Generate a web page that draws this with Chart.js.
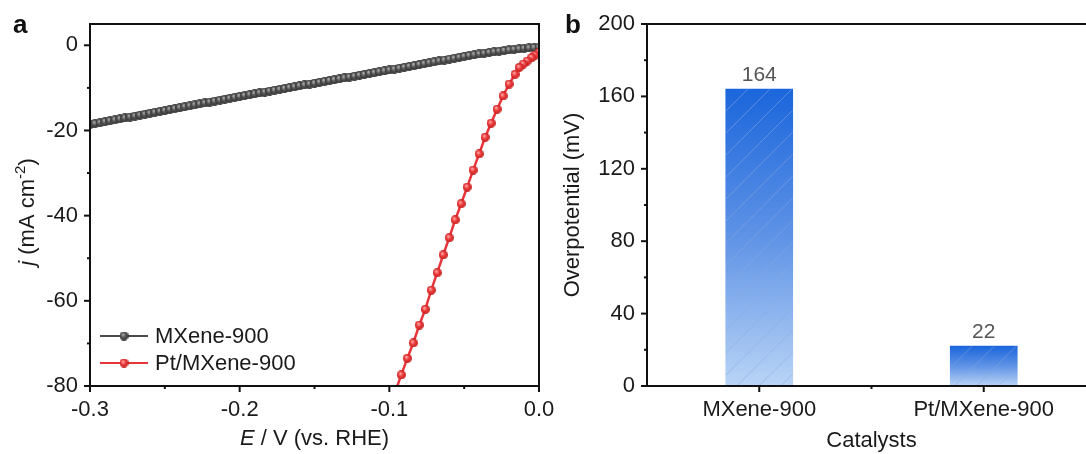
<!DOCTYPE html>
<html>
<head>
<meta charset="utf-8">
<script src="https://cdn.jsdelivr.net/npm/chart.js@4.4.1/dist/chart.umd.min.js"></script>
<style>
  html, body { margin: 0; padding: 0; background: #fff; overflow: hidden; width: 1086px; height: 454px; }
  #panelA { position: absolute; left: 0; top: 0; }
  #panelB { position: absolute; left: 560px; top: 0; }
</style>
</head>
<body>
<canvas id="panelA" width="560" height="454"></canvas>
<canvas id="panelB" width="536" height="454"></canvas>
<script>
// ---- panel a : LSV curves ----
const potentialMx = [
  -0.3000, -0.2967, -0.2933, -0.2900, -0.2867, -0.2833, -0.2800, -0.2767, -0.2733, -0.2700,
  -0.2667, -0.2633, -0.2600, -0.2567, -0.2533, -0.2500, -0.2467, -0.2433, -0.2400, -0.2367,
  -0.2333, -0.2300, -0.2267, -0.2233, -0.2200, -0.2167, -0.2133, -0.2100, -0.2067, -0.2033,
  -0.2000, -0.1967, -0.1933, -0.1900, -0.1867, -0.1833, -0.1800, -0.1767, -0.1733, -0.1700,
  -0.1667, -0.1633, -0.1600, -0.1567, -0.1533, -0.1500, -0.1467, -0.1433, -0.1400, -0.1367,
  -0.1333, -0.1300, -0.1267, -0.1233, -0.1200, -0.1167, -0.1133, -0.1100, -0.1067, -0.1033,
  -0.1000, -0.0967, -0.0933, -0.0900, -0.0867, -0.0833, -0.0800, -0.0767, -0.0733, -0.0700,
  -0.0667, -0.0633, -0.0600, -0.0567, -0.0533, -0.0500, -0.0467, -0.0433, -0.0400, -0.0367,
  -0.0333, -0.0300, -0.0267, -0.0233, -0.0200, -0.0167, -0.0133, -0.0100, -0.0067, -0.0033,
  0.0000
];
const currentMx = [
  -18.60, -18.38, -18.16, -17.94, -17.72, -17.50, -17.28, -17.06, -16.84, -16.62,
  -16.40, -16.18, -15.96, -15.74, -15.52, -15.30, -15.08, -14.86, -14.64, -14.42,
  -14.20, -13.98, -13.76, -13.54, -13.32, -13.10, -12.88, -12.66, -12.44, -12.22,
  -12.00, -11.79, -11.59, -11.38, -11.17, -10.97, -10.76, -10.55, -10.35, -10.14,
  -9.93, -9.73, -9.52, -9.31, -9.10, -8.90, -8.69, -8.48, -8.28, -8.07,
  -7.86, -7.66, -7.45, -7.24, -7.04, -6.83, -6.62, -6.42, -6.21, -6.00,
  -5.80, -5.59, -5.37, -5.16, -4.95, -4.73, -4.52, -4.31, -4.10, -3.88,
  -3.67, -3.46, -3.24, -3.03, -2.82, -2.60, -2.41, -2.22, -2.04, -1.86,
  -1.69, -1.53, -1.37, -1.22, -1.08, -0.95, -0.83, -0.72, -0.62, -0.52,
  -0.42
];
const potentialPt = [
  0.0000, -0.0027, -0.0049, -0.0079, -0.0105, -0.0132, -0.0160, -0.0200, -0.0240,
  -0.0280, -0.0320, -0.0360, -0.0400, -0.0440, -0.0480, -0.0520, -0.0560, -0.0600,
  -0.0640, -0.0680, -0.0720, -0.0760, -0.0800, -0.0840, -0.0880, -0.0920, -0.0960
];
const currentPt = [
  -1.7, -2.3, -2.9, -3.7, -4.4, -5.2, -6.8, -9.1, -11.9,
  -15.0, -18.3, -21.6, -25.5, -29.3, -33.3, -37.2, -41.0, -45.2,
  -49.2, -53.4, -57.5, -62.0, -65.7, -69.9, -73.5, -77.4, -81.3
];
const seriesNames = ['MXene-900', 'Pt/MXene-900'];
const eTicks = [-0.3, -0.2, -0.1, 0.0];
const eMinor = [-0.25, -0.15, -0.05];
const jTicks = [0, -20, -40, -60, -80];
const jMinor = [-10, -30, -50, -70];

// ---- panel b : overpotential bars ----
const catalysts = ['MXene-900', 'Pt/MXene-900'];
const overpotential = [164, 22];
const etaTicks = [0, 40, 80, 120, 160, 200];
const etaMinor = [20, 60, 100, 140, 180];

const FONT = "'Liberation Sans', Arial, sans-serif";
const FS = 22;
Chart.defaults.font.family = FONT;
Chart.defaults.font.size = FS;
Chart.defaults.color = '#1a1a1a';
Chart.defaults.animation = false;

const GRAY = '#4a4a4a';
const RED = '#e8353b';

// shaded ball used as marker
function ball(base, light, dark, d) {
  const c = document.createElement('canvas');
  c.width = d; c.height = d;
  const g = c.getContext('2d');
  const r = d / 2;
  const grad = g.createRadialGradient(r * 0.75, r * 0.65, 0.3, r, r, r);
  grad.addColorStop(0, light);
  grad.addColorStop(0.5, base);
  grad.addColorStop(1, dark);
  g.fillStyle = grad;
  g.beginPath(); g.arc(r, r, r, 0, Math.PI * 2); g.fill();
  return c;
}
const grayBall = ball('#555555', '#b0b0b0', '#333333', 9);
const redBall = ball('#ec3a3a', '#ffb0b0', '#c42020', 9);

function richText(ctx, parts, cx, cy, angle) {
  ctx.save();
  ctx.translate(cx, cy);
  ctx.rotate(angle || 0);
  ctx.textBaseline = 'middle';
  ctx.textAlign = 'left';
  ctx.fillStyle = '#1a1a1a';
  let w = 0;
  parts.forEach(p => { ctx.font = p.font; p.w = ctx.measureText(p.text).width; w += p.w; });
  let x = -w / 2;
  parts.forEach(p => { ctx.font = p.font; ctx.fillText(p.text, x, p.dy || 0); x += p.w; });
  ctx.restore();
}

function tickMarks(ctx, scale, values, len) {
  values.forEach(v => {
    const p = scale.getPixelForValue(v);
    ctx.beginPath();
    if (scale.isHorizontal()) { ctx.moveTo(p, scale.top); ctx.lineTo(p, scale.top + len); }
    else { ctx.moveTo(scale.right, p); ctx.lineTo(scale.right - len, p); }
    ctx.stroke();
  });
}

function drawFrame(chart, xMajor, xMinor, yMajor, yMinor) {
  const { ctx, chartArea: a, scales } = chart;
  ctx.save();
  ctx.strokeStyle = '#111';
  ctx.lineWidth = 2;
  ctx.strokeRect(a.left, a.top, a.right - a.left, a.bottom - a.top);
  tickMarks(ctx, scales.x, xMajor, 6);
  tickMarks(ctx, scales.x, xMinor, 3);
  tickMarks(ctx, scales.y, yMajor, 6);
  tickMarks(ctx, scales.y, yMinor, 3);
  ctx.restore();
}

const lsvDecor = {
  id: 'lsvDecor',
  afterDraw(chart) {
    const { ctx, chartArea: a } = chart;
    drawFrame(chart, eTicks, eMinor, jTicks, jMinor);
    // axis titles
    richText(ctx, [
      { text: 'E', font: 'italic ' + FS + 'px ' + FONT },
      { text: ' / V (vs. RHE)', font: FS + 'px ' + FONT }
    ], (a.left + a.right) / 2, 439);
    richText(ctx, [
      { text: 'j', font: 'italic ' + FS + 'px ' + FONT },
      { text: ' (mA cm', font: FS + 'px ' + FONT },
      { text: '-2', font: '15px ' + FONT, dy: -7 },
      { text: ')', font: FS + 'px ' + FONT }
    ], 28, 212, -Math.PI / 2);
    // panel letter
    ctx.save();
    ctx.fillStyle = '#111';
    ctx.font = 'bold 26px ' + FONT;
    ctx.textBaseline = 'alphabetic';
    ctx.fillText('a', 13, 33);
    // legend
    const rows = [[GRAY, grayBall], [RED, redBall]];
    rows.forEach((r, i) => {
      const y = 336 + i * 27;
      ctx.strokeStyle = r[0];
      ctx.lineWidth = 2;
      ctx.beginPath(); ctx.moveTo(100, y); ctx.lineTo(148, y); ctx.stroke();
      ctx.drawImage(r[1], 124 - 4.5, y - 4.5);
      ctx.fillStyle = '#1a1a1a';
      ctx.font = FS + 'px ' + FONT;
      ctx.textBaseline = 'middle';
      ctx.fillText(seriesNames[i], 155, y + 1);
    });
    ctx.restore();
  }
};

new Chart(document.getElementById('panelA'), {
  type: 'scatter',
  data: {
    datasets: [
      {
        label: seriesNames[0],
        data: potentialMx.map((e, i) => ({ x: e, y: currentMx[i] })),
        showLine: true,
        borderColor: GRAY,
        borderWidth: 2,
        pointStyle: grayBall,
        order: 1
      },
      {
        label: seriesNames[1],
        data: potentialPt.map((e, i) => ({ x: e, y: currentPt[i] })),
        showLine: true,
        borderColor: RED,
        borderWidth: 2.5,
        pointStyle: redBall,
        order: 0
      }
    ]
  },
  options: {
    responsive: false,
    layout: { padding: { top: 24, right: 21, left: 0, bottom: 0 } },
    plugins: { legend: { display: false }, tooltip: { enabled: false } },
    scales: {
      x: {
        type: 'linear', min: -0.3, max: 0,
        grid: { display: false }, border: { display: false },
        afterBuildTicks: s => { s.ticks = eTicks.map(v => ({ value: v })); },
        afterFit: s => { s.height = 68; },
        ticks: { padding: 3, maxRotation: 0, callback: v => Number(v).toFixed(1) }
      },
      y: {
        min: -80, max: 5,
        grid: { display: false }, border: { display: false },
        afterBuildTicks: s => { s.ticks = jTicks.map(v => ({ value: v })); },
        afterFit: s => { s.width = 90; },
        ticks: { padding: 4, callback: v => String(v) }
      }
    }
  },
  plugins: [lsvDecor]
});

// ---- bars ----
function barGradient(c) {
  const chart = c.chart;
  if (!chart.chartArea || c.raw === undefined) return '#4a86e2';
  const ys = chart.scales.y;
  const top = ys.getPixelForValue(c.raw);
  const bot = ys.getPixelForValue(0);
  const g = chart.ctx.createLinearGradient(0, top, 0, bot);
  g.addColorStop(0, '#1b66dc');
  g.addColorStop(0.5, '#5f93e6');
  g.addColorStop(1, '#b9d4f6');
  return g;
}

const barDecor = {
  id: 'barDecor',
  afterDatasetsDraw(chart) {
    const { ctx } = chart;
    const meta = chart.getDatasetMeta(0);
    ctx.save();
    meta.data.forEach((el, i) => {
      const left = el.x - el.width / 2;
      const h = el.base - el.y;
      // faint diagonal hatching
      ctx.save();
      ctx.beginPath();
      ctx.rect(left, el.y, el.width, h);
      ctx.clip();
      ctx.strokeStyle = 'rgba(140,170,222,0.55)';
      ctx.lineWidth = 1;
      for (let k = -h; k < el.width + h; k += 22) {
        ctx.beginPath();
        ctx.moveTo(left + k, el.base);
        ctx.lineTo(left + k + h, el.y);
        ctx.stroke();
      }
      ctx.restore();
      // value label
      ctx.fillStyle = '#555';
      ctx.font = '21px ' + FONT;
      ctx.textAlign = 'center';
      ctx.textBaseline = 'alphabetic';
      ctx.fillText(String(overpotential[i]), el.x, el.y - 8);
    });
    ctx.restore();
  },
  afterDraw(chart) {
    const { ctx, chartArea: a } = chart;
    drawFrame(chart, [0, 1], [0.5], etaTicks, etaMinor);
    richText(ctx, [{ text: 'Catalysts', font: FS + 'px ' + FONT }], (a.left + a.right) / 2, 441);
    richText(ctx, [{ text: 'Overpotential (mV)', font: FS + 'px ' + FONT }], 13, (a.top + a.bottom) / 2, -Math.PI / 2);
    ctx.save();
    ctx.fillStyle = '#111';
    ctx.font = 'bold 26px ' + FONT;
    ctx.fillText('b', 5, 33);
    ctx.restore();
  }
};

new Chart(document.getElementById('panelB'), {
  type: 'bar',
  data: {
    labels: catalysts,
    datasets: [{
      data: overpotential,
      backgroundColor: barGradient,
      borderWidth: 0,
      barThickness: 67
    }]
  },
  options: {
    responsive: false,
    layout: { padding: { top: 24, right: 0, left: 0, bottom: 0 } },
    plugins: { legend: { display: false }, tooltip: { enabled: false } },
    scales: {
      x: {
        type: 'category', offset: true,
        grid: { display: false }, border: { display: false },
        afterFit: s => { s.height = 68; },
        ticks: { padding: 3, maxRotation: 0, autoSkip: false }
      },
      y: {
        min: 0, max: 200,
        grid: { display: false }, border: { display: false },
        afterBuildTicks: s => { s.ticks = etaTicks.map(v => ({ value: v })); },
        afterFit: s => { s.width = 87; },
        ticks: { padding: 4 }
      }
    }
  },
  plugins: [barDecor]
});
</script>
</body>
</html>
